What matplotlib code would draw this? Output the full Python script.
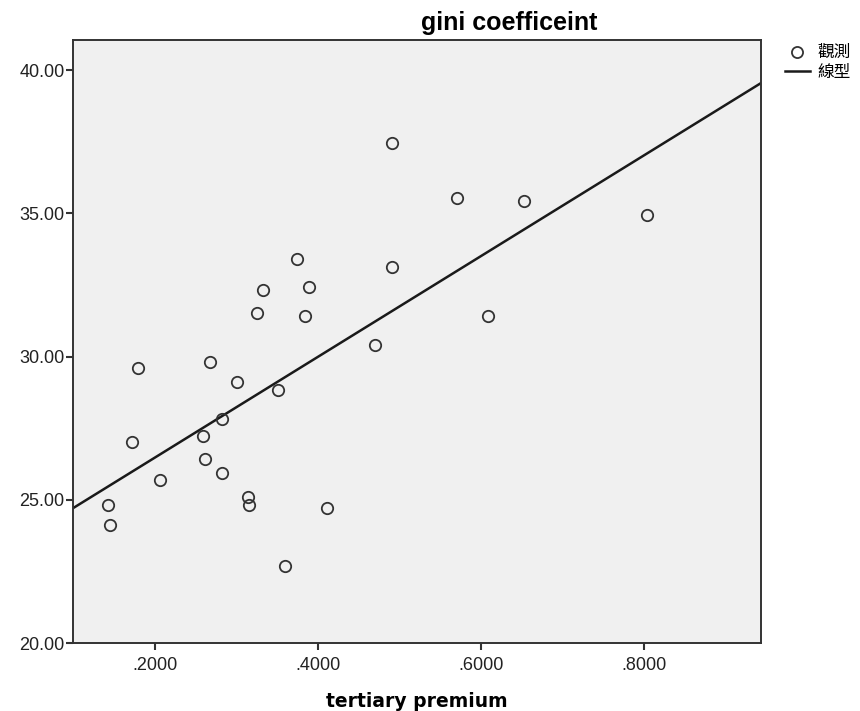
import matplotlib
matplotlib.use("Agg")
import matplotlib.pyplot as plt
import numpy as np
from matplotlib.lines import Line2D

# Data
tertiary_premium = [0.1423, 0.1448, 0.1718, 0.1791, 0.2061, 0.2589, 0.2613, 0.2675,
                    0.2822, 0.2822, 0.3006, 0.3141, 0.3153, 0.3252, 0.3325, 0.3509,
                    0.3595, 0.3742, 0.3840, 0.3890, 0.4110, 0.4699, 0.4908, 0.4908,
                    0.5706, 0.6086, 0.6528, 0.8037]
gini = [24.82, 24.12, 27.02, 29.60, 25.69, 27.22, 26.42, 29.81,
        27.82, 25.93, 29.11, 25.10, 24.82, 31.52, 32.32, 28.83,
        22.69, 33.40, 31.41, 32.43, 24.71, 30.40, 33.12, 37.45,
        35.53, 31.41, 35.43, 34.94]
fit_slope = 17.58
fit_intercept = 22.96
xticks = [0.2, 0.4, 0.6, 0.8]
xtick_labels = [".2000", ".4000", ".6000", ".8000"]
yticks = [20, 25, 30, 35, 40]
ytick_labels = ["20.00", "25.00", "30.00", "35.00", "40.00"]
legend_labels = ["觀測", "線型"]

plt.rcParams['font.family'] = ['Liberation Sans', 'Noto Sans CJK TC', 'DejaVu Sans']

fig = plt.figure(figsize=(8.6, 7.11), dpi=100)
ax = fig.add_axes([0.0849, 0.0956, 0.8, 0.8481])
ax.set_facecolor('#f0f0f0')

xmin, xmax = 0.0994, 0.9436
ymin, ymax = 20.0, 41.05
ax.set_xlim(xmin, xmax)
ax.set_ylim(ymin, ymax)

xl = np.array([xmin, xmax])
ax.plot(xl, fit_intercept + fit_slope * xl, color='#1a1a1a', lw=1.8, zorder=2)
ax.plot(tertiary_premium, gini, linestyle='none', marker='o', markersize=8.2,
        markerfacecolor='none', markeredgecolor='#333333', markeredgewidth=1.3, zorder=3)

ax.set_xticks(xticks)
ax.set_xticklabels(xtick_labels)
ax.set_yticks(yticks)
ax.set_yticklabels(ytick_labels)
ax.tick_params(axis='both', direction='out', length=5, width=1.5, color='#333333',
               labelsize=13, labelcolor='#222222', pad=1)
ax.tick_params(axis='x', pad=5)
for s in ax.spines.values():
    s.set_color('#333333')
    s.set_linewidth(1.4)

ax.set_title("gini coefficeint", fontsize=18, fontweight='bold', x=0.634, pad=7)
ax.set_xlabel("tertiary premium", fontsize=13.5, fontweight='bold',
              family=['DejaVu Sans'], labelpad=13)

handles = [Line2D([], [], linestyle='none', marker='o', markersize=8, markerfacecolor='none',
                  markeredgecolor='#333333', markeredgewidth=1.3),
           Line2D([], [], color='#1a1a1a', lw=1.8)]
fig.legend(handles, legend_labels, loc='upper left', bbox_to_anchor=(0.903, 0.948),
           frameon=False, fontsize=12, handlelength=1.5, handletextpad=0.45,
           labelspacing=0.25, borderpad=0)

fig.savefig("out.png", dpi=100)
